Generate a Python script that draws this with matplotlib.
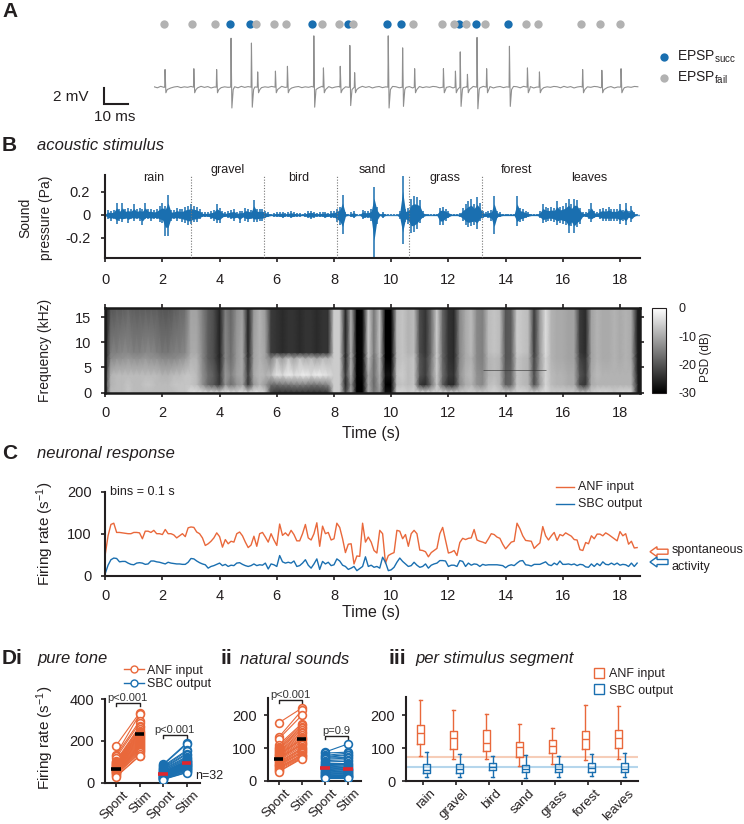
import matplotlib
matplotlib.use("Agg")
import matplotlib.pyplot as plt
from matplotlib.lines import Line2D
from matplotlib.patches import FancyArrow
from matplotlib.transforms import ScaledTranslation
import numpy as np

plt.rcParams['font.family'] = ['Liberation Sans', 'DejaVu Sans']
plt.rcParams['mathtext.fontset'] = 'custom'
plt.rcParams['mathtext.rm'] = 'Liberation Sans'
plt.rcParams['mathtext.default'] = 'rm'
plt.rcParams['axes.unicode_minus'] = False

W, H = 744, 824
DARK = '#231f20'
ORANGE = '#e9683b'
BLUE = '#1a6fb0'
GREY = '#8f8f8f'

# panel A, ms along the recording
succ_times = [31.5, 40, 66, 81, 97, 103, 127, 134, 147.5]
succ_up = [6.1, 5.5, 6.4, 5.2, 6.4, 4.9, 4.4, 6.2, 5.1]
succ_down = [-2.6, -2.5, -2.5, -2.3, -2.6, -2.4, -2.4, -2.7, -2.4]
fail_times = [4, 16, 25.5, 42.6, 50, 55, 70, 77, 83, 108, 120, 125, 130, 138, 155, 160, 178, 186, 194]
fail_up = [2.2, 2.3, 2.2, 1.9, 2.0, 2.6, 2.4, 2.6, 1.8, 2.3, 2.3, 2.0, 1.6, 2.3, 2.4, 1.9, 2.2, 2.1, 2.3]
wiggle = [0.05, -0.08, 0.1, -0.03, 0.07, -0.1, 0.02, 0.08, -0.06, 0.04, -0.02, 0.09]

# panel B waveform envelope, one value per 0.1 s
wave_up = [.01,.04,.03,.04,.10,.05,.10,.05,.06,.05,
           .09,.05,.06,.05,.10,.05,.05,.04,.05,.08,
           .10,.08,.17,.04,.04,.06,.05,.05,.07,.08,
           .09,.08,.07,.05,.02,.02,.02,.03,.04,.09,
           .06,.03,.02,.03,.04,.05,.02,.03,.03,.06,
           .05,.04,.13,.05,.05,.05,.03,.02,.01,.015,
           .02,.02,.025,.015,.02,.03,.02,.015,.015,.01,
           .015,.03,.035,.025,.015,.02,.02,.025,.015,.03,
           .03,.05,.07,.17,.02,.005,.02,.03,.005,.005,
           .04,.03,.03,.05,.24,.07,.01,.025,.01,.005,
           .005,.005,.005,.03,.34,.05,.06,.14,.16,.15,
           .13,.03,.01,.01,.005,.01,.01,.06,.07,.05,
           .03,.01,.01,.01,.015,.06,.09,.12,.14,.09,
           .15,.10,.03,.02,.03,.04,.16,.03,.02,.01,
           .01,.01,.01,.01,.16,.06,.05,.03,.02,.01,
           .01,.01,.03,.09,.07,.06,.07,.06,.12,.07,
           .08,.10,.14,.09,.14,.13,.06,.02,.02,.05,
           .10,.03,.02,.05,.06,.05,.07,.05,.05,.05,
           .09,.04,.10,.03,.08,.02,.005]
wave_low = [.01,.04,.05,.04,.08,.05,.06,.04,.07,.04,
            .05,.04,.05,.09,.04,.04,.05,.04,.04,.06,
            .07,.18,.18,.05,.04,.05,.04,.06,.07,.09,
            .08,.06,.06,.04,.02,.02,.02,.04,.05,.07,
            .07,.03,.02,.03,.04,.05,.03,.07,.03,.05,
            .06,.04,.06,.06,.05,.05,.03,.02,.01,.015,
            .02,.02,.03,.015,.02,.03,.02,.015,.015,.01,
            .02,.03,.035,.025,.015,.02,.02,.03,.02,.03,
            .03,.06,.09,.17,.02,.005,.02,.03,.005,.005,
            .04,.03,.03,.05,.37,.08,.01,.03,.01,.005,
            .005,.005,.005,.04,.25,.06,.08,.16,.15,.12,
            .07,.03,.01,.01,.005,.01,.01,.09,.09,.05,
            .03,.01,.01,.01,.02,.05,.09,.11,.10,.09,
            .12,.05,.03,.02,.03,.05,.17,.03,.02,.01,
            .01,.01,.01,.01,.10,.06,.05,.03,.02,.01,
            .01,.01,.03,.07,.06,.05,.05,.06,.09,.07,
            .08,.09,.16,.10,.16,.11,.08,.02,.02,.04,
            .06,.03,.02,.04,.05,.05,.05,.05,.05,.05,
            .08,.05,.09,.03,.06,.02,.005]
segment_edges = [3.01, 5.55, 8.09, 10.62, 13.18]
segment_names = ['rain', 'gravel', 'bird', 'sand', 'grass', 'forest', 'leaves']
segment_mid = [1.7, 4.27, 6.78, 9.33, 11.87, 14.39, 16.93]

# spectrogram, dB per 0.2 s column
band_floor = [-24,-8,-8,-8,-7,-8,-8,-8,-8,-8,
              -8,-8,-8,-7,-7,-4,-4,-4,-5,-4,
              -5,-3,-4,-5,-3,-5,-3,-4,-6,-22,
              -24,-24,-24,-24,-24,-24,-24,-24,-24,-23,
              -6,-6,-22,-10,-30,-30,-10,-16,-12,-28,
              -28,-5,-5,-6,-5,-4,-4,-5,-5,-4,
              -5,-5,-6,-6,-5,-6,-6,-6,-5,-6,
              -5,-6,-5,-5,-6,-5,-5,-4,-6,-6,
              -6,-6,-6,-7,-7,-6,-5,-5,-5,-6,
              -5,-5,-5,-24]
band_low = [-22,-9,-8,-8,-7,-8,-8,-7,-7,-8,
            -8,-8,-7,-7,-7,-7,-8,-13,-18,-20,
            -24,-13,-17,-13,-11,-24,-12,-9,-12,-17,
            -17,-16,-16,-15,-15,-15,-16,-16,-15,-14,
            -6,-6,-26,-12,-30,-30,-10,-18,-10,-30,
            -30,-8,-7,-8,-7,-23,-25,-17,-7,-19,
            -25,-25,-14,-10,-9,-13,-14,-8,-7,-9,
            -19,-18,-7,-8,-9,-21,-12,-5,-8,-9,
            -9,-10,-10,-22,-24,-10,-9,-9,-9,-9,
            -9,-9,-9,-24]
band_mid = [-24,-9,-8,-8,-8,-8,-8,-8,-8,-8,
            -9,-9,-8,-8,-7,-7,-8,-13,-17,-19,
            -24,-12,-15,-11,-10,-23,-10,-8,-9,-8,
            -3,-5,-2,-4,-3,-2,-4,-2,-3,-4,
            -6,-6,-24,-9,-30,-29,-10,-17,-9,-28,
            -28,-7,-6,-8,-7,-20,-23,-15,-6,-17,
            -23,-24,-13,-9,-8,-13,-14,-9,-8,-9,
            -19,-18,-7,-8,-9,-21,-11,-5,-8,-9,
            -9,-10,-10,-20,-23,-10,-8,-9,-9,-9,
            -9,-9,-9,-25]
band_upper = [-26,-14,-13,-13,-12,-13,-13,-12,-13,-13,
              -14,-14,-14,-13,-12,-9,-9,-14,-19,-21,
              -26,-14,-17,-12,-10,-25,-11,-9,-11,-15,
              -8,-12,-7,-11,-7,-10,-8,-11,-8,-9,
              -6,-6,-26,-9,-30,-29,-7,-17,-8,-30,
              -30,-8,-7,-8,-7,-20,-23,-16,-6,-18,
              -24,-25,-14,-10,-9,-14,-15,-9,-8,-9,
              -20,-19,-7,-8,-9,-22,-12,-5,-9,-10,
              -10,-11,-11,-22,-24,-11,-9,-10,-10,-9,
              -10,-9,-10,-26]
band_edge = [-27,-15,-15,-14,-14,-15,-15,-14,-14,-15,
             -16,-16,-15,-15,-14,-10,-10,-14,-19,-21,
             -26,-14,-17,-12,-10,-26,-11,-9,-11,-23,
             -24,-25,-24,-24,-25,-24,-24,-25,-24,-24,
             -6,-6,-26,-9,-30,-29,-6,-16,-7,-30,
             -30,-8,-7,-9,-8,-21,-24,-17,-6,-18,
             -24,-25,-14,-10,-8,-14,-15,-8,-7,-8,
             -20,-19,-6,-7,-8,-23,-12,-4,-9,-10,
             -10,-11,-11,-23,-25,-11,-9,-10,-10,-9,
             -10,-9,-10,-26]
band_high = [-28,-20,-19,-19,-18,-19,-19,-19,-19,-19,
             -20,-20,-19,-18,-17,-11,-11,-15,-19,-21,
             -26,-15,-18,-13,-11,-26,-12,-9,-12,-23,
             -24,-25,-24,-24,-25,-24,-24,-25,-24,-24,
             -6,-6,-26,-9,-30,-29,-6,-16,-7,-30,
             -30,-8,-7,-9,-8,-21,-24,-17,-6,-18,
             -24,-25,-14,-10,-8,-14,-15,-8,-7,-8,
             -20,-19,-6,-7,-8,-23,-12,-4,-9,-10,
             -10,-11,-11,-23,-25,-11,-9,-10,-10,-9,
             -10,-9,-10,-26]
band_khz = [0.0, 1.6, 3.5, 6.8, 8.0, 16.8]

# panel C, firing rate per 0.1 s bin
anf_rate = [50,95,122,125,103,103,102,101,100,100,
            103,103,102,88,106,106,103,108,100,100,
            98,110,100,100,97,90,95,100,93,114,
            116,115,104,100,90,72,76,82,90,102,
            93,68,86,76,82,80,100,104,95,80,
            67,73,94,70,100,103,92,80,100,85,
            72,123,96,102,95,108,98,83,83,100,
            122,90,85,100,126,70,118,100,103,85,
            88,125,115,88,55,75,76,28,47,46,
            125,80,92,80,60,54,108,100,30,48,
            52,55,108,106,88,98,70,100,108,100,
            61,60,57,45,55,60,65,100,115,85,
            54,56,60,48,79,89,86,89,90,110,
            85,82,80,77,88,100,98,92,89,75,
            64,72,80,82,125,112,95,84,83,82,
            65,72,78,117,95,85,95,103,84,98,
            95,102,98,94,86,85,62,60,79,76,
            95,88,99,99,95,102,98,93,88,83,
            105,95,100,75,82,66,67]
sbc_rate = [5,25,38,42,41,33,34,34,30,27,
            26,30,31,30,27,28,35,35,33,32,
            30,28,32,30,29,28,28,27,27,32,
            41,40,35,31,28,26,18,22,24,27,
            30,24,27,22,25,24,30,31,27,24,
            22,24,28,24,26,25,30,16,28,26,
            22,48,33,30,32,30,35,22,24,30,
            38,25,18,28,40,15,34,28,32,24,
            26,40,35,25,22,15,18,22,12,17,
            22,45,22,25,20,22,18,44,32,12,
            14,20,32,42,34,28,22,24,32,25,
            20,22,28,18,25,28,30,36,36,35,
            22,25,25,22,36,34,22,30,25,28,
            27,22,27,25,26,26,26,26,25,24,
            19,24,26,24,30,35,36,26,25,23,
            27,27,27,30,33,26,24,30,26,35,
            27,27,28,26,28,24,27,26,21,20,
            28,22,29,24,33,27,26,30,26,30,
            25,27,26,22,30,22,30]

# panel Di, paired cells
tone_anf_spont = [178,135,130,120,105,100,98,95,92,90,88,85,82,80,78,75,72,70,68,65,62,60,58,55,52,50,48,45,40,38,30,28]
tone_anf_stim = [335,328,295,285,270,265,258,250,245,240,235,230,225,220,215,210,205,200,195,190,185,180,175,170,165,160,155,150,145,140,130,128]
tone_sbc_spont = [88,85,80,75,72,68,65,62,58,55,52,50,48,46,44,42,40,38,36,34,32,30,28,27,25,24,23,22,20,18,17,15]
tone_sbc_stim = [190,185,155,150,140,135,125,120,115,110,105,102,100,98,95,92,90,88,85,82,80,78,75,72,70,68,65,62,58,55,50,48]
tone_means = [65, 235, 42, 93]

nat_anf_spont = [177,133,128,110,105,100,98,95,90,88,85,82,80,78,75,72,70,68,65,62,58,55,52,50,48,45,42,40,38,35,30,28]
nat_anf_stim = [222,215,200,175,170,165,160,155,150,145,140,135,130,128,125,120,115,112,110,105,100,98,95,90,88,85,80,78,75,72,70,68]
nat_sbc_spont = [88,85,78,75,72,70,66,62,58,55,52,50,48,46,44,42,40,38,36,33,30,28,26,24,22,20,18,16,15,14,12,10]
nat_sbc_stim = [113,88,85,80,78,72,70,65,60,55,52,48,45,42,40,38,36,34,32,30,28,26,24,22,20,18,16,15,14,13,12,10]
nat_means = [66, 128, 40, 37]

pair_labels = ['Spont', 'Stim', 'Spont', 'Stim']

# panel Diii: whisker low, q1, median, q3, whisker high
anf_box = [[78,112,147,170,245], [67,97,131,152,215], [67,92,117,156,204], [47,75,104,118,172],
           [52,85,107,125,160], [65,97,127,153,231], [68,100,130,155,227]]
sbc_box = [[13,25,35,52,90], [13,26,37,52,83], [12,33,42,55,78], [10,27,38,50,80],
           [13,28,38,52,78], [15,27,40,55,84], [13,27,38,54,85]]
spont_anf_mean = 72
spont_sbc_mean = 43

fig = plt.figure(figsize=(W / 100, H / 100), dpi=100)


def axes_px(left, top, right, bottom):
    return fig.add_axes([left / W, 1 - bottom / H, (right - left) / W, (bottom - top) / H])


def clean(ax, pad=7):
    ax.spines[['top', 'right']].set_visible(False)
    ax.spines[['left', 'bottom']].set_linewidth(1.5)
    ax.spines[['left', 'bottom']].set_color(DARK)
    ax.tick_params(labelsize=10.5, colors=DARK, width=1.2, length=2.8, pad=pad)
    ax.patch.set_alpha(0)


def slant_labels(ax, names):
    ax.set_xticks(range(len(names)), names, rotation=45, ha='right', rotation_mode='anchor', fontsize=9.5)
    ax.tick_params(axis='x', pad=1.5)
    shift = ScaledTranslation(6 / 100, 0, fig.dpi_scale_trans)
    for t in ax.get_xticklabels():
        t.set_transform(t.get_transform() + shift)


# overlay in pixels, for the free text and arrows
over = fig.add_axes([0, 0, 1, 1], zorder=10)
over.set_xlim(0, W)
over.set_ylim(H, 0)
over.axis('off')


def label(x, y, s, size=10, **kw):
    kw.setdefault('va', 'center')
    kw.setdefault('color', DARK)
    over.text(x, y, s, fontsize=size, **kw)


for x, y, s in [(2, 11, 'A'), (2, 145, 'B'), (2, 453, 'C'), (2, 659, 'Di'), (221, 659, 'ii'), (388, 659, 'iii')]:
    label(x, y, s, 15, fontweight='bold')
label(37, 145, 'acoustic stimulus', 12, style='italic')
label(37, 453, 'neuronal response', 12, style='italic')
label(37, 659, 'pure tone', 12, style='italic')
label(240, 659, 'natural sounds', 12, style='italic')
label(415, 659, 'per stimulus segment', 12, style='italic')

# A
ax = axes_px(154, 15, 640, 112)
ax.set_xlim(0, 202.5)
ax.set_ylim(-3.1, 9)
ax.axis('off')
events = sorted([(t + 0.6, u, d) for t, u, d in zip(succ_times, succ_up, succ_down)]
                + [(t + 0.6, u, -0.7) for t, u in zip(fail_times, fail_up)])
tr_t, tr_v = [], []
grid = np.arange(0, 202.5, 1.4)
for i, g in enumerate(grid):
    tr_t.append(g)
    tr_v.append(wiggle[i % len(wiggle)])
for t, u, d in events:
    # drop the baseline points under the spike, then add its shape
    keep = [not (t - 0.3 < a < t + 1.2) for a in tr_t]
    tr_t = [a for a, k in zip(tr_t, keep) if k]
    tr_v = [a for a, k in zip(tr_v, keep) if k]
    tr_t += [t - 0.15, t, t + 0.35, t + 0.9]
    tr_v += [0.0, u, d, -0.3]
order = np.argsort(tr_t)
ax.plot(np.array(tr_t)[order], np.array(tr_v)[order], color=GREY, lw=0.8)
ax.plot(succ_times, [7.9] * len(succ_times), 'o', color=BLUE, ms=6, mew=0)
ax.plot(fail_times, [7.9] * len(fail_times), 'o', color='#b2b2b2', ms=6, mew=0)
# scale bar
over.plot([104, 104, 128], [88, 104, 104], color=DARK, lw=1.5, solid_joinstyle='miter')
label(53, 97, '2 mV', 11)
label(94, 117, '10 ms', 11)
over.plot([664], [57], 'o', color=BLUE, ms=6, mew=0)
over.plot([664], [78], 'o', color='#b2b2b2', ms=6, mew=0)
label(677, 57, 'EPSP$_{succ}$', 10)
label(677, 78, 'EPSP$_{fail}$', 10)

# B waveform
T_MAX = 18.7
ax = axes_px(105.2, 175, 640, 258)
clean(ax, pad=8)
t_wave = np.arange(len(wave_up)) * 0.1
up = np.array(wave_up)
low = -np.array(wave_low)
ax.axhline(0, color='#5b9ccf', lw=1, zorder=1)
ax.fill_between(t_wave, low * 0.6, up * 0.6, color=BLUE, lw=0, zorder=2)
ax.vlines(t_wave, low, up, color=BLUE, lw=1.1, zorder=2)
for e in segment_edges:
    ax.axvline(e, color='#777777', lw=0.8, ls=(0, (1, 1.5)), zorder=3)
ax.set_xlim(0, T_MAX)
ax.set_ylim(-0.375, 0.345)
ax.set_xticks(range(0, 19, 2))
ax.set_yticks([-0.2, 0, 0.2], ['-0.2', '0', '0.2'])
for name, m, row in zip(segment_names, segment_mid, [178, 170, 178, 170, 178, 170, 178]):
    label(105.2 + m * 28.6, row, name, 9, ha='center')
label(25, 218, 'Sound', 10, rotation=90, ha='center')
label(46, 218, 'pressure (Pa)', 10, rotation=90, ha='center')

# B spectrogram
ax = axes_px(105.2, 308, 640, 392.5)
ax.set_facecolor('#1a1a1a')
t_cols = np.arange(len(band_high)) * 0.2
spec = np.array([band_floor, band_low, band_mid, band_upper, band_edge, band_high])
mesh = ax.pcolormesh(t_cols, band_khz, spec, cmap='gray', vmin=-30, vmax=0, shading='gouraud')
ax.hlines(4.4, 13.2, 15.4, color='#333333', lw=0.7, alpha=0.6)
ax.set_xlim(0, T_MAX)
ax.set_ylim(0, 16.8)
ax.set_xticks(range(0, 19, 2))
ax.set_yticks([0, 5, 10, 15])
ax.tick_params(labelsize=10.5, colors=DARK, width=1.2, length=2.8, pad=7, top=True, right=True)
for s in ax.spines.values():
    s.set_linewidth(1.8)
    s.set_color('#1a1a1a')
label(45, 350, 'Frequency (kHz)', 10, rotation=90, ha='center')
label(371, 433, 'Time (s)', 11.5, ha='center')
cax = axes_px(652, 308, 666, 392.5)
cb = fig.colorbar(mesh, cax=cax)
cb.set_ticks([0, -10, -20, -30])
cb.ax.tick_params(labelsize=9, length=0, pad=9, colors=DARK)
cb.outline.set_linewidth(0.8)
cb.outline.set_edgecolor(DARK)
label(706, 357, 'PSD (dB)', 8.5, rotation=90, ha='center')

# C
ax = axes_px(105.2, 491.7, 640, 575.7)
clean(ax)
t_rate = np.arange(len(anf_rate)) * 0.1
ax.plot(t_rate, anf_rate, color=ORANGE, lw=1)
ax.plot(t_rate, sbc_rate, color=BLUE, lw=1)
ax.set_xlim(0, T_MAX)
ax.set_ylim(0, 200)
ax.set_xticks(range(0, 19, 2))
ax.set_yticks([0, 100, 200])
label(110, 491.7, 'bins = 0.1 s', 9)
over.plot([556, 574], [487, 487], color=ORANGE, lw=1)
over.plot([556, 574], [504, 504], color=BLUE, lw=1)
label(578, 487, 'ANF input', 9)
label(578, 504, 'SBC output', 9)
over.add_patch(FancyArrow(668, 551.7, -18, 0, width=5, head_width=10, head_length=7,
                          length_includes_head=True, fc='white', ec=ORANGE, lw=1))
over.add_patch(FancyArrow(668, 562, -18, 0, width=5, head_width=10, head_length=7,
                          length_includes_head=True, fc='white', ec=BLUE, lw=1))
label(672, 550, 'spontaneous', 9)
label(672, 567, 'activity', 9)
label(45, 534, 'Firing rate (s$^{-1}$)', 11, rotation=90, ha='center')
label(371, 612, 'Time (s)', 11.5, ha='center')


def paired(ax, anf_a, anf_b, sbc_a, sbc_b, means):
    for x0, a, b, c in [(0, anf_a, anf_b, ORANGE), (2, sbc_a, sbc_b, BLUE)]:
        for v0, v1 in zip(a, b):
            ax.plot([x0, x0 + 1], [v0, v1], color=c, lw=0.8, zorder=2)
        ax.plot([x0] * len(a), a, 'o', mfc='white', mec=c, mew=1.2, ms=5.6, zorder=3)
        ax.plot([x0 + 1] * len(b), b, 'o', mfc='white', mec=c, mew=1.2, ms=5.6, zorder=3)
    for i, m in enumerate(means):
        ax.plot([i - 0.2, i + 0.2], [m, m], color='black' if i < 2 else '#e0262e',
                lw=2.6, solid_capstyle='butt', zorder=4)
    slant_labels(ax, pair_labels)


def bracket(ax, x0, x1, y, drop, text):
    ax.plot([x0, x0, x1, x1], [y - drop, y, y, y - drop], color=DARK, lw=1, clip_on=False)
    ax.text((x0 + x1) / 2, y, text, ha='center', va='bottom', fontsize=8, color='#333333')


# Di
ax = axes_px(105, 699.3, 200, 782.7)
clean(ax, pad=5)
paired(ax, tone_anf_spont, tone_anf_stim, tone_sbc_spont, tone_sbc_stim, tone_means)
ax.set_xlim(-0.47, 3.57)
ax.set_ylim(0, 400)
ax.set_yticks([0, 200, 400])
bracket(ax, 0, 1, 383, 15, 'p<0.001')
bracket(ax, 2, 3, 229, 15, 'p<0.001')
label(195, 776, 'n=32', 9)
label(45, 738, 'Firing rate (s$^{-1}$)', 11, rotation=90, ha='center')
fig.legend(handles=[Line2D([], [], color=ORANGE, lw=1, marker='o', mfc='white', mec=ORANGE, ms=5),
                    Line2D([], [], color=BLUE, lw=1, marker='o', mfc='white', mec=BLUE, ms=5)],
           labels=['ANF input', 'SBC output'], loc='center left', bbox_to_anchor=(118 / W, 1 - 677.5 / H),
           frameon=False, fontsize=9, handlelength=1.6, handletextpad=0.2, labelspacing=0.15,
           borderpad=0, labelcolor=DARK)

# Dii
ax = axes_px(267.7, 698.3, 360.7, 781)
clean(ax, pad=5)
paired(ax, nat_anf_spont, nat_anf_stim, nat_sbc_spont, nat_sbc_stim, nat_means)
ax.set_xlim(-0.475, 3.55)
ax.set_ylim(0, 252)
ax.set_yticks([0, 100, 200])
bracket(ax, 0, 1, 247, 10, 'p<0.001')
bracket(ax, 2, 3, 137, 10, 'p=0.9')

# Diii
ax = axes_px(406, 697, 638, 781.3)
clean(ax, pad=5)
ax.axhline(spont_anf_mean, color='#f6cdb8', lw=1.5, zorder=1)
ax.axhline(spont_sbc_mean, color='#b5d6ec', lw=1.5, zorder=1)
pos = np.arange(len(segment_names))
for stats, off, c in [(anf_box, -0.1, ORANGE), (sbc_box, 0.1, BLUE)]:
    rows = [dict(whislo=s[0], q1=s[1], med=s[2], q3=s[3], whishi=s[4], fliers=[]) for s in stats]
    st = dict(color=c, lw=1)
    ax.bxp(rows, positions=pos + off, widths=0.21, showfliers=False, boxprops=st, medianprops=st,
           whiskerprops=st, capprops=st, capwidths=0.1, manage_ticks=False, zorder=2)
ax.set_xlim(-0.53, 6.5)
ax.set_ylim(0, 255)
ax.set_yticks([0, 100, 200])
slant_labels(ax, segment_names)
ax.legend(handles=[Line2D([], [], ls='', marker='s', mfc='none', mec=ORANGE, ms=7),
                   Line2D([], [], ls='', marker='s', mfc='none', mec=BLUE, ms=7)],
          labels=['ANF input', 'SBC output'], loc='center left',
          bbox_to_anchor=(0.78, 1.172), frameon=False, fontsize=9, handlelength=1, handletextpad=0.3,
          labelspacing=0.35, borderpad=0, labelcolor=DARK)

fig.savefig('out.png', dpi=100)
